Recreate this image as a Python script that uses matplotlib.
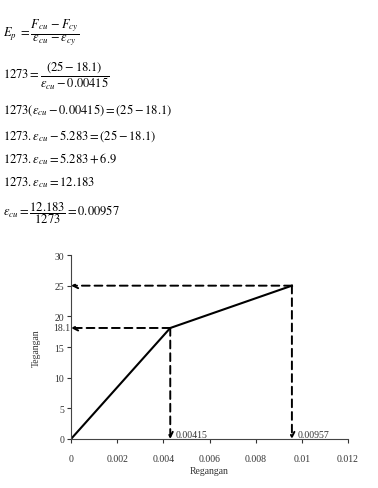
import numpy as np
import matplotlib
matplotlib.use("Agg")
import matplotlib.pyplot as plt

plt.rcParams['font.family'] = ['Liberation Serif', 'DejaVu Serif']
plt.rcParams['mathtext.fontset'] = 'stix'

# data
strain = [0.0, 0.0043, 0.00957]
stress = [0.0, 18.1, 25.0]
yield_label = "0.00415"
ult_label = "0.00957"
xticks = [0, 0.002, 0.004, 0.006, 0.008, 0.01, 0.012]
xtick_labels = ["0", "0.002", "0.004", "0.006", "0.008", "0.01", "0.012"]
yticks = [0, 5, 10, 15, 20, 25, 30]

equations = [
    r'$E_p\ =\dfrac{F_{cu}\,-F_{cy}}{\varepsilon_{cu}\,-\varepsilon_{cy}}$',
    r'$1273=\dfrac{\left(25-18.1\right)}{\varepsilon_{cu}-0.00415}$',
    r'$1273\left(\varepsilon_{cu}-0.00415\right)=\left(25-18.1\right)$',
    r'$1273.\varepsilon_{cu}-5.283=\left(25-18.1\right)$',
    r'$1273.\varepsilon_{cu}=5.283+6.9$',
    r'$1273.\varepsilon_{cu}=12.183$',
    r'$\varepsilon_{cu}=\dfrac{12.183}{1273}=0.00957$',
]
eq_rows = [33, 76, 110, 136, 159, 183, 213]

W, H = 378, 489
fig = plt.figure(figsize=(W / 100, H / 100), dpi=100)

for eq, py in zip(equations, eq_rows):
    fig.text(3 / W, 1 - py / H, eq, fontsize=9, va='center', ha='left')

ax = fig.add_axes([71 / W, 49 / H, 277 / W, 184 / H])
ax.plot(strain, stress, color='black', lw=1.5)

dash = dict(arrowstyle='->', color='black', lw=1.4, linestyle=(0, (4, 2.5)),
            shrinkA=0, shrinkB=0, mutation_scale=9)
for x, y in zip(strain[1:], stress[1:]):
    ax.annotate('', xy=(0, y), xytext=(x, y), arrowprops=dash)
    ax.annotate('', xy=(x, 0), xytext=(x, y), arrowprops=dash)

ax.text(strain[1] + 0.00025, 0.4, yield_label, fontsize=7, color='#333333')
ax.text(strain[2] + 0.00025, 0.4, ult_label, fontsize=7, color='#333333')
ax.text(-0.00005, stress[1], "18.1", fontsize=7, color='#333333',
        ha='right', va='center')

ax.set_xlim(0, 0.012)
ax.set_ylim(0, 30)
ax.set_xticks(xticks)
ax.set_xticklabels(xtick_labels)
ax.set_yticks(yticks)
for s in ['top', 'right']:
    ax.spines[s].set_visible(False)
for s in ['left', 'bottom']:
    ax.spines[s].set_linewidth(0.8)
    ax.spines[s].set_color('#444444')
ax.tick_params(labelsize=7, length=3, width=0.8, colors='#333333', pad=8)
ax.tick_params(axis='y', pad=2)
ax.set_xlabel("Regangan", fontsize=7, color='#333333', labelpad=2)
ax.set_ylabel("Tegangan", fontsize=7, color='#333333', labelpad=10)

fig.savefig("out.png", dpi=100)
